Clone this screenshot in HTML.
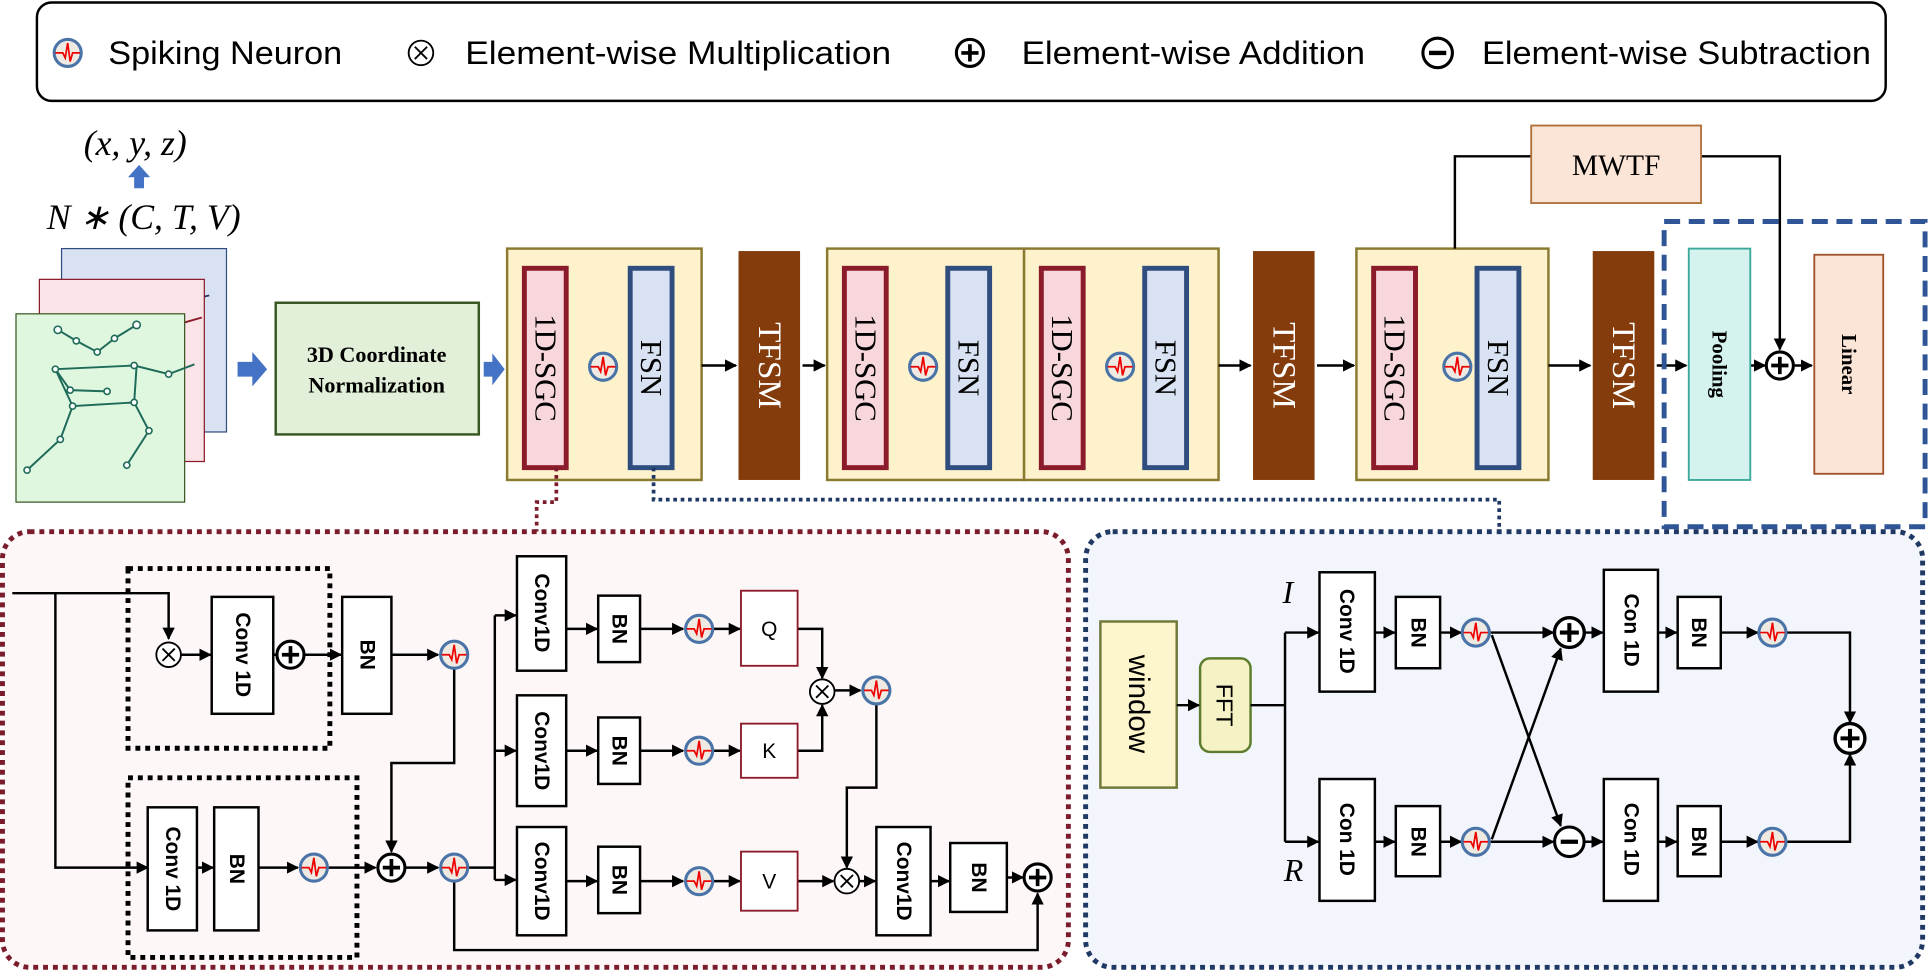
<!DOCTYPE html>
<html><head><meta charset="utf-8"><style>
html,body{margin:0;padding:0;background:#fff;}
svg{display:block;}
text{font-family:"Liberation Sans",sans-serif;}
.s{font-family:"Liberation Serif",serif;}
.b{stroke:#000;stroke-width:2;fill:#fff;}
.l{stroke:#000;stroke-width:2;fill:none;}
.lb{font-weight:bold;font-size:17px;}
</style></head><body>
<svg width="1930" height="971" viewBox="0 0 1568 789" preserveAspectRatio="none" xmlns="http://www.w3.org/2000/svg">
<defs>
<marker id="a" markerWidth="10" markerHeight="10" refX="9" refY="5" orient="auto" markerUnits="userSpaceOnUse"><path d="M0,0 L10,5 L0,10 z" fill="#000"/></marker>
<g id="sp"><circle r="11" fill="#eeeae2" stroke="#4a73a8" stroke-width="2.5"/><path d="M-10,0 H-4 L-2,4 L0,-8 L2,7 L4,0 H10" fill="none" stroke="#e00" stroke-width="1.4"/></g>
<g id="pl"><circle r="11" fill="#fff" stroke="#000" stroke-width="2.5"/><path d="M-7,0H7M0,-7V7" stroke="#000" stroke-width="3"/></g>
<g id="mu"><circle r="10" fill="#fff" stroke="#000" stroke-width="1.5"/><path d="M-5,-5L5,5M5,-5L-5,5" stroke="#000" stroke-width="1.5"/></g>
<g id="mi"><circle r="12" fill="#fff" stroke="#000" stroke-width="2.5"/><path d="M-7,0H7" stroke="#000" stroke-width="3.5"/></g>
</defs>

<!-- legend -->
<rect x="30" y="2" width="1502" height="80" rx="12" fill="#fff" stroke="#000" stroke-width="2"/>
<use href="#sp" x="55" y="43"/><text x="88" y="52" font-size="26" textLength="190" lengthAdjust="spacingAndGlyphs">Spiking Neuron</text>
<use href="#mu" x="342" y="43"/><text x="378" y="52" font-size="26" textLength="346" lengthAdjust="spacingAndGlyphs">Element-wise Multiplication</text>
<use href="#pl" x="788" y="43"/><text x="830" y="52" font-size="26" textLength="279" lengthAdjust="spacingAndGlyphs">Element-wise Addition</text>
<use href="#mi" x="1168" y="43"/><text x="1204" y="52" font-size="26" textLength="316" lengthAdjust="spacingAndGlyphs">Element-wise Subtraction</text>

<!-- input -->
<text x="68" y="126" class="s" font-size="29" font-style="italic">(x, y, z)</text>
<path d="M104,144 L113,134 L122,144 H117 V153 H109 V144z" fill="#4472c4"/>
<text x="38" y="186" class="s" font-size="29" font-style="italic">N ∗ (C, T, V)</text>
<rect x="50" y="202" width="134" height="149" fill="#d9e2f3" stroke="#2f4d7f" stroke-width="1"/>
<path d="M105,229 L120,236 M148,229 L135,236 M150,245 L170,240" stroke="#203864" stroke-width="1.5" fill="none"/>
<rect x="32" y="227" width="134" height="148" fill="#fbe4e8" stroke="#8b1a2a" stroke-width="1"/>
<path d="M83,261 L98,268 M117,258 L130,264 M150,262 L164,258" stroke="#8b1a2a" stroke-width="1.5" fill="none"/>
<rect x="13" y="255" width="137" height="153" fill="#dff7df" stroke="#385723" stroke-width="1"/>
<g stroke="#1f6b5a" stroke-width="1.6" fill="none">
<path d="M47,268 L62,277 L79,286 L93,275 L111,264"/>
<path d="M45,300 L109,297 L137,304 L158,296"/>
<path d="M45,300 L59,330 L109,327 L111,297"/>
<path d="M45,300 L57,317 L87,318"/>
<path d="M59,330 L49,357 L22,382"/>
<path d="M109,327 L121,350 L103,378"/>
</g>
<g fill="#fff" stroke="#1f6b5a" stroke-width="1.3"><circle cx="47" cy="268" r="3"/><circle cx="62" cy="277" r="2.5"/><circle cx="79" cy="286" r="2.5"/><circle cx="93" cy="275" r="2.5"/><circle cx="111" cy="264" r="3"/><circle cx="45" cy="300" r="2.5"/><circle cx="109" cy="297" r="2.5"/><circle cx="87" cy="318" r="2.5"/><circle cx="57" cy="317" r="2.5"/><circle cx="59" cy="330" r="2.5"/><circle cx="109" cy="327" r="2.5"/><circle cx="22" cy="382" r="2.5"/><circle cx="103" cy="378" r="2.5"/><circle cx="49" cy="357" r="2.5"/><circle cx="121" cy="350" r="2.5"/><circle cx="137" cy="304" r="2.5"/></g>
<path d="M193,294 H205 V286 L217,300 L205,314 V306 H193z" fill="#4472c4"/>
<rect x="224" y="246" width="165" height="107" fill="#e2efd9" stroke="#385723" stroke-width="2"/>
<text x="306" y="294" class="s" font-size="18" font-weight="bold" text-anchor="middle">3D Coordinate</text>
<text x="306" y="319" class="s" font-size="18" font-weight="bold" text-anchor="middle">Normalization</text>
<path d="M393,294 H400 V287 L410,300 L400,313 V306 H393z" fill="#4472c4"/>

<!-- blocks -->
<g stroke-width="2">
<rect x="412" y="202" width="158" height="188" fill="#fdf2cc" stroke="#8a7a30"/>
<rect x="672" y="202" width="160" height="188" fill="#fdf2cc" stroke="#8a7a30"/>
<rect x="832" y="202" width="158" height="188" fill="#fdf2cc" stroke="#8a7a30"/>
<rect x="1102" y="202" width="156" height="188" fill="#fdf2cc" stroke="#8a7a30"/>
</g>
<g stroke-width="4">
<rect x="426" y="218" width="34" height="162" fill="#f8d7dc" stroke="#8b1a2a"/>
<rect x="512" y="218" width="34" height="162" fill="#d9e2f3" stroke="#2f4d7f"/>
<rect x="686" y="218" width="34" height="162" fill="#f8d7dc" stroke="#8b1a2a"/>
<rect x="770" y="218" width="34" height="162" fill="#d9e2f3" stroke="#2f4d7f"/>
<rect x="846" y="218" width="34" height="162" fill="#f8d7dc" stroke="#8b1a2a"/>
<rect x="930" y="218" width="34" height="162" fill="#d9e2f3" stroke="#2f4d7f"/>
<rect x="1116" y="218" width="34" height="162" fill="#f8d7dc" stroke="#8b1a2a"/>
<rect x="1200" y="218" width="34" height="162" fill="#d9e2f3" stroke="#2f4d7f"/>
</g>
<g class="s" font-size="25" text-anchor="middle" dominant-baseline="central">
<text class="s" transform="translate(443,299) rotate(90)">1D-SGC</text>
<text class="s" transform="translate(529,299) rotate(90)">FSN</text>
<text class="s" transform="translate(703,299) rotate(90)">1D-SGC</text>
<text class="s" transform="translate(787,299) rotate(90)">FSN</text>
<text class="s" transform="translate(863,299) rotate(90)">1D-SGC</text>
<text class="s" transform="translate(947,299) rotate(90)">FSN</text>
<text class="s" transform="translate(1133,299) rotate(90)">1D-SGC</text>
<text class="s" transform="translate(1217,299) rotate(90)">FSN</text>
</g>
<use href="#sp" x="490" y="298"/><use href="#sp" x="750" y="298"/><use href="#sp" x="910" y="298"/><use href="#sp" x="1184" y="298"/>
<rect x="600" y="204" width="50" height="186" fill="#843c0c"/>
<rect x="1018" y="204" width="50" height="186" fill="#843c0c"/>
<rect x="1294" y="204" width="50" height="186" fill="#843c0c"/>
<g fill="#fff" font-size="27" text-anchor="middle" dominant-baseline="central">
<text class="s" fill="#fff" transform="translate(625,297) rotate(90)">TFSM</text>
<text class="s" fill="#fff" transform="translate(1043,297) rotate(90)">TFSM</text>
<text class="s" fill="#fff" transform="translate(1319,297) rotate(90)">TFSM</text>
</g>
<g class="l" marker-end="url(#a)">
<path d="M570,297 H598"/><path d="M652,297 H670"/><path d="M990,297 H1016"/><path d="M1070,297 H1100"/><path d="M1258,297 H1292"/><path d="M1346,297 H1370"/>
<path d="M1422,297 H1434"/><path d="M1458,297 H1472"/>
<path d="M1382,127 H1446 V284"/>
</g>
<path class="l" d="M1182,202 V127 H1244"/>
<rect x="1244" y="102" width="138" height="63" fill="#fbe5d6" stroke="#b0703a" stroke-width="1.5"/>
<text x="1313" y="142" class="s" font-size="24" text-anchor="middle">MWTF</text>
<rect x="1352" y="180" width="212" height="248" fill="none" stroke="#2f5597" stroke-width="4" stroke-dasharray="13,7"/>
<rect x="1372" y="202" width="50" height="188" fill="#d4f3ef" stroke="#3aa89a" stroke-width="1.5"/>
<text class="s" font-size="17" font-weight="bold" text-anchor="middle" dominant-baseline="central" transform="translate(1397,296) rotate(90)">Pooling</text>
<use href="#pl" x="1446" y="297"/>
<rect x="1474" y="207" width="56" height="178" fill="#fbe5d6" stroke="#a0522d" stroke-width="1.5"/>
<text class="s" font-size="17" font-weight="bold" text-anchor="middle" dominant-baseline="central" transform="translate(1502,296) rotate(90)">Linear</text>

<!-- dotted connectors -->
<path d="M452,380 V408 H436 V432" fill="none" stroke="#7b1c2c" stroke-width="3" stroke-dasharray="3,3"/>
<path d="M531,380 V406 H1218 V432" fill="none" stroke="#203864" stroke-width="3" stroke-dasharray="3,3"/>

<!-- panels -->
<rect x="2" y="432" width="866" height="354" rx="22" fill="#fdf7f8" stroke="#7b1c2c" stroke-width="4" stroke-dasharray="4,4"/>
<rect x="882" y="432" width="680" height="354" rx="22" fill="#f2f5fb" stroke="#203864" stroke-width="4" stroke-dasharray="4,4"/>

<!-- red panel -->
<rect x="104" y="462" width="164" height="146" fill="none" stroke="#000" stroke-width="4" stroke-dasharray="4,4"/>
<rect x="104" y="632" width="186" height="146" fill="none" stroke="#000" stroke-width="4" stroke-dasharray="4,4"/>
<g class="l">
<path d="M10,482 H137 V519" marker-end="url(#a)"/>
<path d="M45,482 V705 H120" marker-end="url(#a)"/>
<path d="M147,532 H171" marker-end="url(#a)"/>
<path d="M222,532 H224" marker-end="url(#a)"/>
<path d="M248,532 H277" marker-end="url(#a)"/>
<path d="M318,532 H356" marker-end="url(#a)"/>
<path d="M369,543 V620 H318 V692" marker-end="url(#a)"/>
<path d="M160,705 H173" marker-end="url(#a)"/>
<path d="M210,705 H242" marker-end="url(#a)"/>
<path d="M267,705 H305" marker-end="url(#a)"/>
<path d="M330,705 H356" marker-end="url(#a)"/>
<path d="M381,705 H402"/>
<path d="M402,500 V715"/>
<path d="M402,500 H419" marker-end="url(#a)"/>
<path d="M402,610 H419" marker-end="url(#a)"/>
<path d="M402,715 H419" marker-end="url(#a)"/>
<path d="M369,717 V772 H843 V726" marker-end="url(#a)"/>
<path d="M460,511 H485" marker-end="url(#a)"/><path d="M520,511 H555" marker-end="url(#a)"/><path d="M580,511 H601" marker-end="url(#a)"/>
<path d="M460,610 H485" marker-end="url(#a)"/><path d="M520,610 H555" marker-end="url(#a)"/><path d="M580,610 H601" marker-end="url(#a)"/>
<path d="M460,716 H485" marker-end="url(#a)"/><path d="M520,716 H555" marker-end="url(#a)"/><path d="M580,716 H601" marker-end="url(#a)"/>
<path d="M648,511 H668 V551" marker-end="url(#a)"/>
<path d="M648,610 H668 V573" marker-end="url(#a)"/>
<path d="M678,561 H699" marker-end="url(#a)"/>
<path d="M712,572 V640 H688 V705" marker-end="url(#a)"/>
<path d="M648,716 H677" marker-end="url(#a)"/>
<path d="M698,716 H711" marker-end="url(#a)"/>
<path d="M756,716 H771" marker-end="url(#a)"/>
<path d="M818,713 H831" marker-end="url(#a)"/>
</g>
<g class="b">
<rect x="172" y="485" width="50" height="95"/><rect x="278" y="485" width="40" height="95"/>
<rect x="120" y="656" width="40" height="100"/><rect x="174" y="656" width="36" height="100"/>
<rect x="420" y="452" width="40" height="93"/><rect x="420" y="565" width="40" height="90"/><rect x="420" y="672" width="40" height="88"/>
<rect x="486" y="484" width="34" height="54"/><rect x="486" y="583" width="34" height="54"/><rect x="486" y="688" width="34" height="54"/>
<rect x="712" y="672" width="44" height="88"/><rect x="772" y="685" width="46" height="56"/>
</g>
<g fill="#fff" stroke="#8b1a2a" stroke-width="1.5"><rect x="602" y="480" width="46" height="61"/><rect x="602" y="588" width="46" height="44"/><rect x="602" y="692" width="46" height="48"/></g>
<text x="625" y="517" font-size="17" text-anchor="middle">Q</text>
<text x="625" y="616" font-size="17" text-anchor="middle">K</text>
<text x="625" y="722" font-size="17" text-anchor="middle">V</text>
<g class="lb" text-anchor="middle" dominant-baseline="central">
<text class="lb" transform="translate(197,532) rotate(90)">Conv 1D</text>
<text class="lb" transform="translate(298,532) rotate(90)" font-size="15">BN</text>
<text class="lb" transform="translate(140,706) rotate(90)">Conv 1D</text>
<text class="lb" transform="translate(192,706) rotate(90)" font-size="15">BN</text>
<text class="lb" transform="translate(440,498) rotate(90)">Conv1D</text>
<text class="lb" transform="translate(440,610) rotate(90)">Conv1D</text>
<text class="lb" transform="translate(440,716) rotate(90)">Conv1D</text>
<text class="lb" transform="translate(503,511) rotate(90)" font-size="15">BN</text>
<text class="lb" transform="translate(503,610) rotate(90)" font-size="15">BN</text>
<text class="lb" transform="translate(503,715) rotate(90)" font-size="15">BN</text>
<text class="lb" transform="translate(734,716) rotate(90)">Conv1D</text>
<text class="lb" transform="translate(795,713) rotate(90)" font-size="15">BN</text>
</g>
<use href="#mu" x="137" y="532"/><use href="#pl" x="236" y="532"/><use href="#sp" x="369" y="532"/>
<use href="#sp" x="255" y="705"/><use href="#pl" x="318" y="705"/><use href="#sp" x="369" y="705"/>
<use href="#sp" x="568" y="511"/><use href="#sp" x="568" y="610"/><use href="#sp" x="568" y="716"/>
<use href="#mu" x="668" y="562"/><use href="#sp" x="712" y="561"/><use href="#mu" x="688" y="716"/><use href="#pl" x="843" y="713"/>

<!-- blue panel -->
<rect x="894" y="505" width="62" height="135" fill="#fdf5cc" stroke="#6f7a3a" stroke-width="2"/>
<text transform="translate(925,572) rotate(90)" font-size="24" text-anchor="middle" dominant-baseline="central">window</text>
<rect x="975" y="535" width="41" height="76" rx="8" fill="#f5f3c6" stroke="#5d7d2e" stroke-width="2"/>
<text transform="translate(995,573) rotate(90)" font-size="19" text-anchor="middle" dominant-baseline="central">FFT</text>
<text x="1042" y="490" class="s" font-size="26" font-style="italic">I</text>
<text x="1043" y="716" class="s" font-size="26" font-style="italic">R</text>
<g class="l">
<path d="M956,573 H974" marker-end="url(#a)"/>
<path d="M1016,573 H1044"/>
<path d="M1044,514 V684"/>
<path d="M1044,514 H1071" marker-end="url(#a)"/>
<path d="M1044,684 H1071" marker-end="url(#a)"/>
<path d="M1117,514 H1133" marker-end="url(#a)"/><path d="M1170,514 H1187" marker-end="url(#a)"/>
<path d="M1117,684 H1133" marker-end="url(#a)"/><path d="M1170,684 H1187" marker-end="url(#a)"/>
<path d="M1211,514 H1262" marker-end="url(#a)"/>
<path d="M1211,684 H1262" marker-end="url(#a)"/>
<path d="M1212,516 L1268,671" marker-end="url(#a)"/>
<path d="M1212,682 L1268,527" marker-end="url(#a)"/>
<path d="M1288,514 H1302" marker-end="url(#a)"/><path d="M1347,514 H1362" marker-end="url(#a)"/><path d="M1398,514 H1428" marker-end="url(#a)"/>
<path d="M1288,684 H1302" marker-end="url(#a)"/><path d="M1347,684 H1362" marker-end="url(#a)"/><path d="M1398,684 H1428" marker-end="url(#a)"/>
<path d="M1452,514 H1503 V587" marker-end="url(#a)"/>
<path d="M1452,684 H1503 V613" marker-end="url(#a)"/>
</g>
<g class="b">
<rect x="1072" y="465" width="45" height="97"/><rect x="1134" y="485" width="36" height="58"/>
<rect x="1072" y="633" width="45" height="99"/><rect x="1134" y="655" width="36" height="57"/>
<rect x="1303" y="463" width="44" height="99"/><rect x="1363" y="485" width="35" height="58"/>
<rect x="1303" y="633" width="44" height="99"/><rect x="1363" y="655" width="35" height="57"/>
</g>
<g class="lb" text-anchor="middle" dominant-baseline="central">
<text class="lb" transform="translate(1094,513) rotate(90)">Conv 1D</text>
<text class="lb" transform="translate(1152,514) rotate(90)" font-size="15">BN</text>
<text class="lb" transform="translate(1094,682) rotate(90)">Con 1D</text>
<text class="lb" transform="translate(1152,684) rotate(90)" font-size="15">BN</text>
<text class="lb" transform="translate(1325,512) rotate(90)">Con 1D</text>
<text class="lb" transform="translate(1380,514) rotate(90)" font-size="15">BN</text>
<text class="lb" transform="translate(1325,682) rotate(90)">Con 1D</text>
<text class="lb" transform="translate(1380,684) rotate(90)" font-size="15">BN</text>
</g>
<use href="#sp" x="1199" y="514"/><use href="#sp" x="1199" y="684"/><use href="#sp" x="1440" y="514"/><use href="#sp" x="1440" y="684"/>
<use href="#pl" x="1275" y="514" transform="translate(1275,514) scale(1.1) translate(-1275,-514)"/>
<use href="#mi" x="1275" y="684"/>
<use href="#pl" x="1503" y="600" transform="translate(1503,600) scale(1.1) translate(-1503,-600)"/>
</svg>
</body></html>
